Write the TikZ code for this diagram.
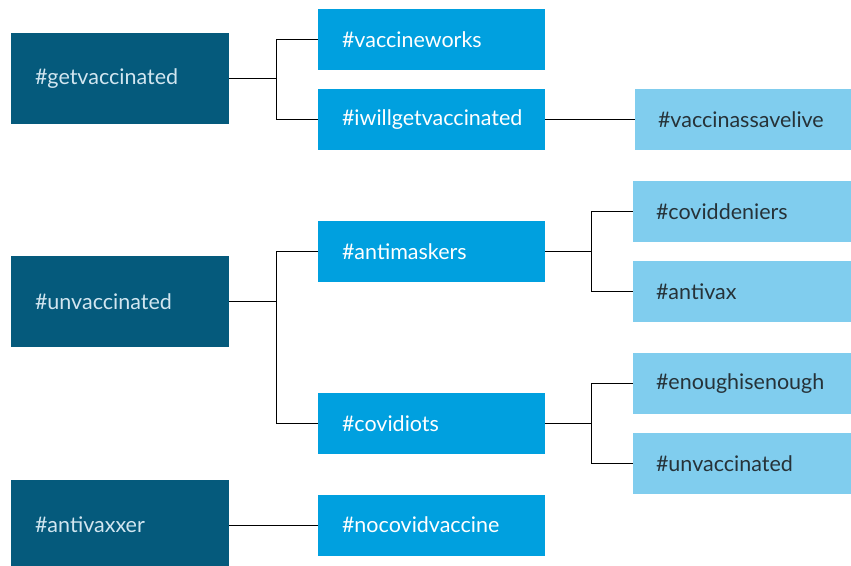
\documentclass[tikz,border=0pt]{standalone}
\usepackage{fontspec}
\setmainfont{Lato}
\usepackage{tikz}

\definecolor{darkbox}{HTML}{055A7C}
\definecolor{midbox}{HTML}{00A0DF}
\definecolor{lightbox}{HTML}{80CDEE}
\definecolor{darktext}{HTML}{D2E6F0}
\definecolor{lighttext}{HTML}{263238}

\begin{document}
\begin{tikzpicture}[x=1pt, y=-1pt,
            tag/.style={rectangle, inner xsep=24pt, inner ysep=0pt, align=left, font=\fontsize{21.5}{24}\selectfont},
            darktag/.style={tag, fill=darkbox, text=darktext, text width=170pt, minimum height=91pt},
            midtag/.style={tag, fill=midbox, text=white, text width=179pt, minimum height=61pt},
            lighttag/.style={tag, fill=lightbox, text=lighttext, inner xsep=23pt, text width=172pt, minimum height=61pt},
            link/.style={draw=black, line width=1pt}]
            \useasboundingbox (0,0) rectangle (851,565);
            \node[darktag] (getvac) at (120, 78.5) {\#getvaccinated};
            \node[darktag] (unvac) at (120, 301.5) {\#unvaccinated};
            \node[darktag] (antivaxxer) at (120, 525) {\#antivaxxer};
            \node[midtag] (works) at (431.5, 39.5) {\#vaccineworks};
            \node[midtag] (iwill) at (431.5, 119.5) {\#iwillgetvaccinated};
            \node[midtag] (masks) at (431.5, 251.5) {\#antimaskers};
            \node[midtag] (idiots) at (431.5, 423.5) {\#covidiots};
            \node[midtag] (novac) at (431.5, 525) {\#nocovidvaccine};
            \node[lighttag, text width=170pt] (savelive) at (743, 119.5) {\#vaccinassavelive};
            \node[lighttag] (deniers) at (742, 211.5) {\#coviddeniers};
            \node[lighttag] (antivax) at (742, 291.5) {\#antivax};
            \node[lighttag] (enough) at (742, 383.5) {\#enoughisenough};
            \node[lighttag] (unvacb) at (742, 463.5) {\#unvaccinated};
            \draw[link] (getvac.east) -- +(47,0) |- (works.west);
            \draw[link] (getvac.east) -- +(47,0) |- (iwill.west);
            \draw[link] (iwill.east) -- (savelive.west);
            \draw[link] (unvac.east) -- +(47,0) |- (masks.west);
            \draw[link] (unvac.east) -- +(47,0) |- (idiots.west);
            \draw[link] (masks.east) -- +(46,0) |- (deniers.west);
            \draw[link] (masks.east) -- +(46,0) |- (antivax.west);
            \draw[link] (idiots.east) -- +(46,0) |- (enough.west);
            \draw[link] (idiots.east) -- +(46,0) |- (unvacb.west);
            \draw[link] (antivaxxer.east) -- (novac.west);
        \end{tikzpicture}
\end{document}
